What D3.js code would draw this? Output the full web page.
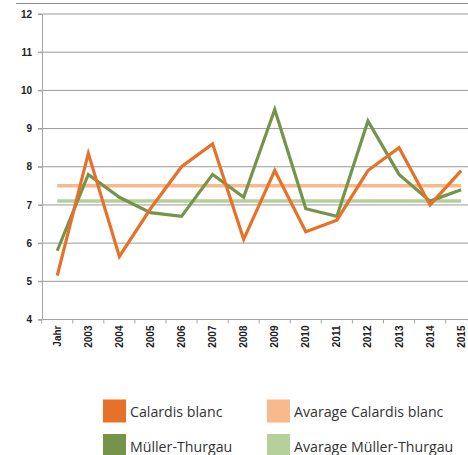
<!DOCTYPE html>
<html>
<head>
<meta charset="utf-8">
<script src="https://cdn.jsdelivr.net/npm/d3@7"></script>
<style>
  body { margin: 0; background: #fff; }
  svg { display: block; }
</style>
</head>
<body>
<div id="chart"></div>
<script>
// categories on the x axis
const years = ["Jahr", "2003", "2004", "2005", "2006", "2007", "2008", "2009", "2010", "2011", "2012", "2013", "2014", "2015"];

// series values
const calardis = [5.15, 8.35, 5.65, 6.9, 8.0, 8.6, 6.1, 7.9, 6.3, 6.6, 7.9, 8.5, 7.0, 7.9];
const mueller  = [5.8, 7.8, 7.2, 6.8, 6.7, 7.8, 7.2, 9.5, 6.9, 6.7, 9.2, 7.8, 7.1, 7.4];
const avgCalardis = 7.5;
const avgMueller = 7.1;

// y ticks
const yTicks = [4, 5, 6, 7, 8, 9, 10, 11, 12];

const legendItems = [
    {label: "Calardis blanc", color: "#e8712a"},
    {label: "Avarage Calardis blanc", color: "#f8b98c"},
    {label: "Müller-Thurgau", color: "#76934a"},
    {label: "Avarage Müller-Thurgau", color: "#b6d09b"}
];

const width = 468, height = 455;
const margin = {top: 14, left: 42, bottom: 135.5};

let svg = d3.select("#chart").append("svg")
    .attr("width", width)
    .attr("height", height);

// the chart is cut off on the right, so the band range runs past the svg
let x = d3.scaleBand()
    .domain(years)
    .range([41.7, 476.7])
    .padding(0);

let y = d3.scaleLinear()
    .domain([4, 12])
    .range([height - margin.bottom, margin.top]);

// frame line at the very top
svg.append("line")
    .attr("x1", 16).attr("x2", width)
    .attr("y1", 3.5).attr("y2", 3.5)
    .attr("stroke", "#8c8c8c")
    .attr("stroke-width", 1);

// grid lines
svg.append("g")
    .selectAll("line")
    .data(yTicks)
    .enter()
    .append("line")
    .attr("x1", margin.left - 4)
    .attr("x2", width)
    .attr("y1", d => y(d))
    .attr("y2", d => y(d))
    .attr("stroke", d => d === 4 ? "#a6a6a6" : "#9a9a9a")
    .attr("stroke-width", 1);

// y axis
let yAxis = svg.append("g")
    .attr("transform", `translate(${margin.left}, 0)`)
    .call(d3.axisLeft(y).tickValues(yTicks).tickSize(4).tickPadding(6).tickFormat(d3.format("d")));
yAxis.select(".domain").attr("stroke", "#a6a6a6");
yAxis.selectAll(".tick line").attr("stroke", "#a6a6a6");
yAxis.selectAll("text")
    .style("font-family", "'Liberation Sans', Arial, sans-serif")
    .style("font-size", "10px")
    .style("font-weight", "bold")
    .attr("fill", "#222");

// x axis
let xAxis = svg.append("g")
    .attr("transform", `translate(0, ${y(4)})`)
    .call(d3.axisBottom(x).tickSize(0));
xAxis.select(".domain").remove();
xAxis.selectAll("text")
    .style("font-family", "'Liberation Sans', Arial, sans-serif")
    .style("font-size", "10px")
    .style("font-weight", "bold")
    .attr("fill", "#222")
    .attr("text-anchor", "end")
    .attr("transform", "rotate(-90)")
    .attr("x", -6)
    .attr("y", 0)
    .attr("dy", "0.35em");

// tick marks on category boundaries
xAxis.selectAll(".bound")
    .data(years)
    .enter()
    .append("line")
    .attr("class", "bound")
    .attr("x1", d => x(d))
    .attr("x2", d => x(d))
    .attr("y1", 0)
    .attr("y2", 4)
    .attr("stroke", "#a6a6a6");

let cx = d => x(d) + x.bandwidth() / 2;

// average lines
[[avgCalardis, "#f8b98c"], [avgMueller, "#b6d09b"]].forEach(([v, c]) => {
    svg.append("line")
        .attr("x1", cx(years[0]))
        .attr("x2", cx(years[years.length - 1]))
        .attr("y1", y(v))
        .attr("y2", y(v))
        .attr("stroke", c)
        .attr("stroke-width", 3.5);
});

let line = d3.line()
    .x((d, i) => cx(years[i]))
    .y(d => y(d));

svg.append("path")
    .datum(mueller)
    .attr("d", line)
    .attr("fill", "none")
    .attr("stroke", "#76934a")
    .attr("stroke-width", 3.2)
    .attr("stroke-linejoin", "miter");

svg.append("path")
    .datum(calardis)
    .attr("d", line)
    .attr("fill", "none")
    .attr("stroke", "#e8712a")
    .attr("stroke-width", 3.2)
    .attr("stroke-linejoin", "miter");

// legend
let legend = svg.append("g");
let lg = legend.selectAll("g")
    .data(legendItems)
    .enter()
    .append("g")
    .attr("transform", (d, i) => `translate(${i % 2 === 0 ? 103 : 267}, ${i < 2 ? 399.5 : 434})`);

lg.append("rect")
    .attr("width", 23)
    .attr("height", 23)
    .attr("fill", d => d.color);

lg.append("text")
    .attr("x", 27)
    .attr("y", 17.5)
    .text(d => d.label)
    .style("font-family", "'Open Sans', sans-serif")
    .style("font-size", "14.2px")
    .attr("fill", "#333");
</script>
</body>
</html>
